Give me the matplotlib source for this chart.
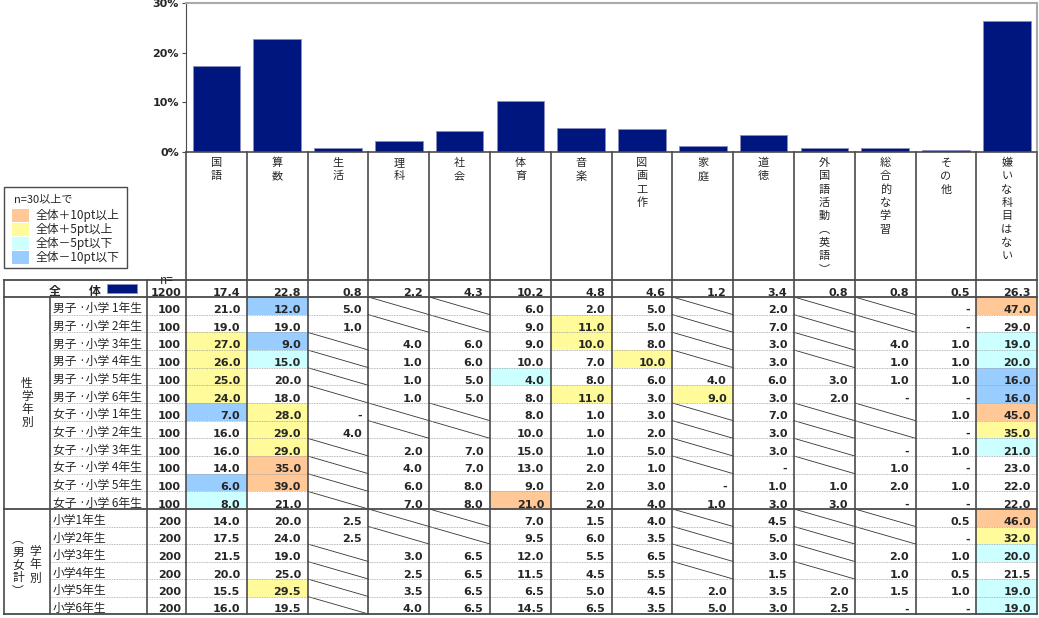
import matplotlib
matplotlib.use('Agg')
import matplotlib.pyplot as plt
from matplotlib.patches import Rectangle

plt.rcParams['font.family'] = ['Noto Sans CJK JP', 'DejaVu Sans']

# ---- data ----
subjects = ['国語', '算数', '生活', '理科', '社会', '体育', '音楽', '図画工作', '家庭', '道徳',
            '外国語活動︵英語︶', '総合的な学習', 'その他', '嫌いな科目はない']
total_n = 1200
total = [17.4, 22.8, 0.8, 2.2, 4.3, 10.2, 4.8, 4.6, 1.2, 3.4, 0.8, 0.8, 0.5, 26.3]

N = None   # not asked for this grade -> diagonal
D = '-'    # zero answers

grade_labels = ['男子 ·小学 1年生', '男子 ·小学 2年生', '男子 ·小学 3年生', '男子 ·小学 4年生',
                '男子 ·小学 5年生', '男子 ·小学 6年生', '女子 ·小学 1年生', '女子 ·小学 2年生',
                '女子 ·小学 3年生', '女子 ·小学 4年生', '女子 ·小学 5年生', '女子 ·小学 6年生']
grade_n = [100] * 12
grade_rows = [
    [21.0, 12.0, 5.0, N, N, 6.0, 2.0, 5.0, N, 2.0, N, N, D, 47.0],
    [19.0, 19.0, 1.0, N, N, 9.0, 11.0, 5.0, N, 7.0, N, N, D, 29.0],
    [27.0, 9.0, N, 4.0, 6.0, 9.0, 10.0, 8.0, N, 3.0, N, 4.0, 1.0, 19.0],
    [26.0, 15.0, N, 1.0, 6.0, 10.0, 7.0, 10.0, N, 3.0, N, 1.0, 1.0, 20.0],
    [25.0, 20.0, N, 1.0, 5.0, 4.0, 8.0, 6.0, 4.0, 6.0, 3.0, 1.0, 1.0, 16.0],
    [24.0, 18.0, N, 1.0, 5.0, 8.0, 11.0, 3.0, 9.0, 3.0, 2.0, D, D, 16.0],
    [7.0, 28.0, D, N, N, 8.0, 1.0, 3.0, N, 7.0, N, N, 1.0, 45.0],
    [16.0, 29.0, 4.0, N, N, 10.0, 1.0, 2.0, N, 3.0, N, N, D, 35.0],
    [16.0, 29.0, N, 2.0, 7.0, 15.0, 1.0, 5.0, N, 3.0, N, D, 1.0, 21.0],
    [14.0, 35.0, N, 4.0, 7.0, 13.0, 2.0, 1.0, N, D, N, 1.0, D, 23.0],
    [6.0, 39.0, N, 6.0, 8.0, 9.0, 2.0, 3.0, D, 1.0, 1.0, 2.0, 1.0, 22.0],
    [8.0, 21.0, N, 7.0, 8.0, 21.0, 2.0, 4.0, 1.0, 3.0, 3.0, D, D, 22.0],
]

sum_labels = ['小学1年生', '小学2年生', '小学3年生', '小学4年生', '小学5年生', '小学6年生']
sum_n = [200] * 6
sum_rows = [
    [14.0, 20.0, 2.5, N, N, 7.0, 1.5, 4.0, N, 4.5, N, N, 0.5, 46.0],
    [17.5, 24.0, 2.5, N, N, 9.5, 6.0, 3.5, N, 5.0, N, N, D, 32.0],
    [21.5, 19.0, N, 3.0, 6.5, 12.0, 5.5, 6.5, N, 3.0, N, 2.0, 1.0, 20.0],
    [20.0, 25.0, N, 2.5, 6.5, 11.5, 4.5, 5.5, N, 1.5, N, 1.0, 0.5, 21.5],
    [15.5, 29.5, N, 3.5, 6.5, 6.5, 5.0, 4.5, 2.0, 3.5, 2.0, 1.5, 1.0, 19.0],
    [16.0, 19.5, N, 4.0, 6.5, 14.5, 6.5, 3.5, 5.0, 3.0, 2.5, D, D, 19.0],
]

legend_labels = ['全体＋10pt以上', '全体＋5pt以上', '全体－5pt以下', '全体－10pt以下']
legend_colors = ['#FFC896', '#FFFA9A', '#CCFFFF', '#99CCFF']

# ---- layout (pixels) ----
W, H = 1039, 618
X_L, X_G, X_N, X_C0 = 4, 50, 147, 186
CW = 60.8
X_R = X_C0 + CW * len(subjects)
Y_AX_TOP, Y_AX_BOT = 3, 152
Y_T0, Y_T1 = 280, 297
Y_G2, Y_END = 509, 614
RH1 = (Y_G2 - Y_T1) / len(grade_rows)
RH2 = (Y_END - Y_G2) / len(sum_rows)

NAVY = '#00167F'
TXT = '#262626'
LINE = '#4a4a4a'
NUM = dict(family='DejaVu Sans', fontweight='bold', fontsize=8, color=TXT)
JP = dict(fontsize=8.5, color=TXT)
HDR = dict(fontsize=8, color=TXT)


def shade(v, base):
    d = round(v - base, 1)
    if d >= 10:
        return legend_colors[0]
    if d >= 5:
        return legend_colors[1]
    if d <= -10:
        return legend_colors[3]
    if d <= -5:
        return legend_colors[2]
    return None


def vtext(ax, x, y0, chars, step, **kw):
    for k, ch in enumerate(chars):
        ax.text(x, y0 + k * step, ch, ha='center', va='center', **kw)


fig = plt.figure(figsize=(W / 100, H / 100), dpi=100)
tab = fig.add_axes([0, 0, 1, 1])
tab.set_xlim(0, W)
tab.set_ylim(H, 0)
tab.axis('off')

# ---- bar chart ----
ax = fig.add_axes([X_C0 / W, 1 - Y_AX_BOT / H, (X_R - X_C0) / W, (Y_AX_BOT - Y_AX_TOP) / H])
ax.patch.set_alpha(0)
ax.bar([i + 0.5 for i in range(len(subjects))], total, width=0.78,
       color=NAVY, edgecolor='#8c8cc0', linewidth=0.6)
ax.set_xlim(0, len(subjects))
ax.set_ylim(0, 30)
ax.set_yticks([0, 10, 20, 30])
ax.set_yticklabels(['0%', '10%', '20%', '30%'], **NUM)
ax.set_xticks([])
ax.tick_params(axis='y', length=3, color=LINE, pad=2)
ax.spines['left'].set_color(LINE)
ax.spines['bottom'].set_color(LINE)
ax.spines['bottom'].set_linewidth(1.2)
for s in ('top', 'right'):
    ax.spines[s].set_color('#aaaaaa')
    ax.spines[s].set_linewidth(1.5)

# ---- column headers ----
for i, name in enumerate(subjects):
    xc = X_C0 + (i + 0.5) * CW
    vtext(tab, xc, 163, name, 13.3, **HDR)

# ---- cells ----
def draw_row(y0, h, vals, n, label, base):
    for i, v in enumerate(vals):
        xl = X_C0 + i * CW
        xr = xl + CW
        if v is None:
            tab.plot([xl, xr], [y0, y0 + h], color='#333333', lw=0.6)
            continue
        if v == D:
            s = '-'
        else:
            s = f'{v:.1f}'
            c = shade(v, base[i]) if base is not None else None
            if c:
                tab.add_patch(Rectangle((xl, y0), CW, h, facecolor=c, edgecolor='none', zorder=0))
        tab.text(xr - 6.5, y0 + h - 1.5, s, ha='right', va='baseline', **NUM)
    tab.text(X_N + 34, y0 + h - 1.5, str(n), ha='right', va='baseline', **NUM)
    if label is not None:
        tab.text(X_G + 3, y0 + h - 2.5, label, ha='left', va='baseline', **JP)


draw_row(Y_T0, Y_T1 - Y_T0, total, total_n, None, None)
tab.text(55, Y_T1 - 2.5, '全', ha='center', va='baseline', fontweight='bold', **JP)
tab.text(95, Y_T1 - 2.5, '体', ha='center', va='baseline', fontweight='bold', **JP)
tab.add_patch(Rectangle((107, 284), 30, 8.5, facecolor=NAVY, edgecolor='#8c8cc0', lw=0.6))

for r, vals in enumerate(grade_rows):
    draw_row(Y_T1 + r * RH1, RH1, vals, grade_n[r], grade_labels[r], total)
for r, vals in enumerate(sum_rows):
    draw_row(Y_G2 + r * RH2, RH2, vals, sum_n[r], sum_labels[r], total)

# dotted row separators
for r in range(1, len(grade_rows)):
    y = Y_T1 + r * RH1
    tab.plot([X_G, X_R], [y, y], color='#a0a0a0', lw=0.6, ls=(0, (1, 1)))
for r in range(1, len(sum_rows)):
    y = Y_G2 + r * RH2
    tab.plot([X_G, X_R], [y, y], color='#a0a0a0', lw=0.6, ls=(0, (1, 1)))

# solid rules
for y in (Y_T0, Y_T1, Y_G2, Y_END):
    tab.plot([X_L, X_R], [y, y], color=LINE, lw=1.3)
for x in (X_L, X_N):
    tab.plot([x, x], [Y_T0, Y_END], color=LINE, lw=1.2)
tab.plot([X_G, X_G], [Y_T1, Y_END], color=LINE, lw=1.2)
for i in range(len(subjects) + 1):
    x = X_C0 + i * CW
    tab.plot([x, x], [Y_AX_BOT, Y_END], color=LINE, lw=1.2)

# group labels
g1c = (Y_T1 + Y_G2) / 2
vtext(tab, 27, g1c - 1.5 * 13.3, '性学年別', 13.3, **JP)
vtext(tab, 35, 551, '学年別', 13.5, **JP)
vtext(tab, 18, 539, '︵男女計︶', 13.0, **JP)

# n= (cut by the table rule)
t = tab.text(167, 274, 'n=', ha='center', va='top', **JP)
t.set_clip_path(Rectangle((140, 250), 45, Y_T0 - 250, transform=tab.transData))

# ---- legend box ----
tab.add_patch(Rectangle((X_L, 187), 123, 81, facecolor='white', edgecolor=LINE, lw=1))
tab.text(14, 199, 'n=30以上で', ha='left', va='center', fontsize=8, color=TXT)
for k, (lab, col) in enumerate(zip(legend_labels, legend_colors)):
    yc = 215 + k * 14
    tab.add_patch(Rectangle((12, yc - 6.5), 17, 13, facecolor=col, edgecolor='none'))
    tab.text(36, yc, lab, ha='left', va='center', **JP)

fig.savefig('out.png', dpi=100)
plt.close(fig)
